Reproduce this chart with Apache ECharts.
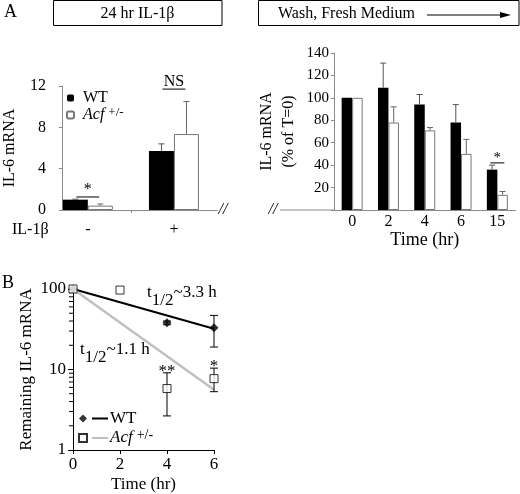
<!DOCTYPE html>
<html><head><meta charset="utf-8">
<script src="https://cdn.jsdelivr.net/npm/echarts@6/dist/echarts.min.js"></script>
<style>html,body{margin:0;padding:0;background:#fff}#c{width:520px;height:494px}</style>
</head><body><div id="c"></div>
<script>
// ---------- Panel A (left): 24 hr IL-1beta ----------
const groupsA = ['-', '+'];
const groupPosA = [0, 1];
const wtA = [1.0, 5.7];
const wtAErr = [0.05, 0.7];
const acfA = [0.42, 7.35];
const acfAErr = [0.16, 3.15];
const sigA = [{x: 0, y: 1.26, text: '*'}, {x: 1, y: 11.7, text: 'NS'}];

// ---------- Panel A (right): wash, fresh medium ----------
const timesR = ['0', '2', '4', '6', '15'];
const wtR = [100, 109, 94, 78, 36];
const wtRErr = [0, 22, 9, 16, 4];
const acfR = [100, 78, 71, 50, 13.5];
const acfRErr = [0, 14, 2.5, 13, 3];
const sigR = [{x: 4, y: 42, text: '*'}];

// ---------- Panel B: decay on log scale ----------
const wtBTime = [0, 4, 6];
const wtBVal = [100, 38, 33];
const wtBLow = [100, 36, 19];
const wtBHigh = [100, 40, 47];
const acfBTime = [0, 2, 4, 6];
const acfBVal = [100, 97, 5.8, 7.7];
const acfBLow = [100, 97, 2.65, 5.3];
const acfBHigh = [100, 97, 9.1, 10.4];
const fitTime = [0, 6];
const wtFit = [100, 32];
const acfFit = [100, 5.6];
const minorTicksB = [2,3,4,5,6,7,8,9,20,30,40,50,60,70,80,90];
const sigB = [{x: 4, y: 9.1, text: '**'}, {x: 6, y: 10.4, text: '*'}];
const halfLives = [{x: 3.15, y: 81, val: '3.3 h'}, {x: 0.3, y: 16, val: '1.1 h'}];

const FF = "'Liberation Serif', 'Times New Roman', Times, 'DejaVu Serif', serif";
const GRAY = '#8a8a8a';

function errUp(offsetPx, capW, color) {
  return function (params, api) {
    const x = api.value(0), v = api.value(1), e = api.value(2);
    if (!e) return;
    const p0 = api.coord([x, v]), p1 = api.coord([x, v + e]);
    const cx = p0[0] + offsetPx;
    return {type: 'group', children: [
      {type: 'line', shape: {x1: cx, y1: p0[1], x2: cx, y2: p1[1]}, style: {stroke: color, lineWidth: 1}},
      {type: 'line', shape: {x1: cx - capW / 2, y1: p1[1], x2: cx + capW / 2, y2: p1[1]}, style: {stroke: color, lineWidth: 1}}
    ]};
  };
}
function errRange(capW, color) {
  return function (params, api) {
    const x = api.value(0), lo = api.value(1), hi = api.value(2);
    if (lo === hi) return;
    const a = api.coord([x, lo]), b = api.coord([x, hi]);
    const cx = a[0];
    return {type: 'group', children: [
      {type: 'line', shape: {x1: cx, y1: a[1], x2: cx, y2: b[1]}, style: {stroke: color, lineWidth: 1}},
      {type: 'line', shape: {x1: cx - capW / 2, y1: a[1], x2: cx + capW / 2, y2: a[1]}, style: {stroke: color, lineWidth: 1}},
      {type: 'line', shape: {x1: cx - capW / 2, y1: b[1], x2: cx + capW / 2, y2: b[1]}, style: {stroke: color, lineWidth: 1}}
    ]};
  };
}
function sigRender(list, halfW, withLine, fs, dy) {
  return function (params, api) {
    const item = list[params.dataIndex];
    const p = api.coord([api.value(0), api.value(1)]);
    const ch = [];
    if (withLine) ch.push({type: 'line', shape: {x1: p[0] - halfW, y1: p[1], x2: p[0] + halfW, y2: p[1]}, style: {stroke: '#000', lineWidth: 1}});
    ch.push({type: 'text', x: p[0], y: p[1] + dy, style: {text: item.text, fill: '#000', fontSize: fs, fontFamily: FF, align: 'center', verticalAlign: 'bottom'}});
    return {type: 'group', children: ch};
  };
}

const chart = echarts.init(document.getElementById('c'), null, {renderer: 'canvas'});
const baseText = {fontFamily: FF, color: '#000'};
const gText = (s, size, extra) => Object.assign({text: s, fontSize: size, fontFamily: FF, fill: '#000'}, extra || {});

chart.setOption({
  animation: false,
  backgroundColor: '#fff',
  textStyle: {fontFamily: FF},
  grid: [
    {left: 62, top: 86, width: 155, height: 124},
    {left: 334, top: 53, width: 181.5, height: 157},
    {left: 73, top: 289, width: 141, height: 161}
  ],
  xAxis: [
    {gridIndex: 0, type: 'value', min: -0.3, max: 1.5,
      axisLine: {show: true, onZero: false, lineStyle: {color: GRAY}},
      axisTick: {show: true, customValues: [0.5], length: 3, lineStyle: {color: GRAY}},
      axisLabel: {show: true, customValues: groupPosA, margin: 12, fontSize: 16, ...baseText,
        formatter: v => groupsA[Math.round(v)]},
      splitLine: {show: false}},
    {gridIndex: 1, type: 'category', data: timesR,
      axisLine: {onZero: false, lineStyle: {color: GRAY}},
      axisTick: {length: 3, lineStyle: {color: GRAY}},
      axisLabel: {margin: 4, fontSize: 16, ...baseText},
      name: 'Time (hr)', nameLocation: 'middle', nameGap: 16,
      nameTextStyle: {fontSize: 18, ...baseText}},
    {gridIndex: 2, type: 'value', min: 0, max: 6, interval: 2,
      axisLine: {show: true, onZero: false, lineStyle: {color: '#000'}},
      axisTick: {show: true, length: 4, lineStyle: {color: '#000'}},
      axisLabel: {margin: 6, fontSize: 17, ...baseText},
      splitLine: {show: false},
      name: 'Time (hr)', nameLocation: 'middle', nameGap: 26,
      nameTextStyle: {fontSize: 17, ...baseText}}
  ],
  yAxis: [
    {gridIndex: 0, type: 'value', min: 0, max: 12, interval: 4,
      axisLine: {show: true, onZero: false, lineStyle: {color: GRAY}},
      axisTick: {show: true, length: 3, lineStyle: {color: GRAY}},
      axisLabel: {margin: 16, fontSize: 16, ...baseText},
      splitLine: {show: false},
      name: 'IL-6 mRNA', nameLocation: 'middle', nameGap: 44,
      nameTextStyle: {fontSize: 16, ...baseText}},
    {gridIndex: 1, type: 'value', min: 0, max: 140, interval: 20,
      axisLine: {show: true, onZero: false, lineStyle: {color: GRAY}},
      axisTick: {show: true, length: 3, lineStyle: {color: GRAY}},
      axisLabel: {margin: 5, fontSize: 15, ...baseText, formatter: v => v === 0 ? '' : String(v)},
      splitLine: {show: false},
      name: 'IL-6 mRNA\n(% of T=0)', nameLocation: 'middle', nameGap: 34,
      nameTextStyle: {fontSize: 16, lineHeight: 22, ...baseText}},
    {gridIndex: 2, type: 'log', logBase: 10, min: 1, max: 100,
      axisLine: {show: true, onZero: false, lineStyle: {color: '#000'}},
      axisTick: {show: true, length: 5, lineStyle: {color: '#000'}},
      axisLabel: {margin: 7, fontSize: 17, ...baseText},
      splitLine: {show: false},
      name: 'Remaining IL-6 mRNA', nameLocation: 'middle', nameGap: 38,
      nameTextStyle: {fontSize: 17, ...baseText}}
  ],
  legend: [
    {left: 61, top: 85, orient: 'vertical', itemWidth: 7, itemHeight: 7, itemGap: 0,
      data: ['WT', 'Acf'],
      formatter: n => n === 'WT' ? '{sp|}{n|WT}' : '{sp|}{i|Acf}{s|+/-}',
      textStyle: {fontFamily: FF, color: '#000', rich: {
        sp: {width: 4},
        n: {fontSize: 16, fontFamily: FF, lineHeight: 18},
        i: {fontSize: 16, fontFamily: FF, fontStyle: 'italic', lineHeight: 18},
        s: {fontSize: 13, fontFamily: FF, lineHeight: 10, verticalAlign: 'top', padding: [0, 0, 0, 4]}
      }}},
    {left: 73, top: 405, orient: 'vertical', itemWidth: 8, itemHeight: 8, itemGap: 1,
      data: ['WT-B', 'Acf-B'],
      formatter: n => n === 'WT-B' ? '{ln|}{sp|}{n|WT}' : '{lg|}{sp|}{i|Acf}{s|+/-}',
      textStyle: {fontFamily: FF, color: '#000', rich: {
        ln: {width: 16, height: 2, backgroundColor: '#000'},
        lg: {width: 16, height: 2, backgroundColor: '#c0c0c0'},
        sp: {width: 2},
        n: {fontSize: 17, fontFamily: FF, lineHeight: 20},
        i: {fontSize: 17, fontFamily: FF, fontStyle: 'italic', lineHeight: 20},
        s: {fontSize: 14, fontFamily: FF, lineHeight: 10, verticalAlign: 'top', padding: [0, 0, 0, 4]}
      }}}
  ],
  graphic: [
    {type: 'text', left: 4, top: 3, style: gText('A', 18)},
    {type: 'text', left: 2, top: 274, style: gText('B', 18)},
    {type: 'rect', shape: {x: 53.5, y: 0.5, width: 168.5, height: 25}, style: {fill: 'none', stroke: '#000', lineWidth: 1}},
    {type: 'text', x: 137.5, y: 13.5, style: gText('24 hr IL-1β', 16, {align: 'center', verticalAlign: 'middle'})},
    {type: 'rect', shape: {x: 258.5, y: 0.5, width: 260.5, height: 25}, style: {fill: 'none', stroke: '#000', lineWidth: 1}},
    {type: 'text', x: 278, y: 13.5, style: gText('Wash, Fresh Medium', 16, {align: 'left', verticalAlign: 'middle'})},
    {type: 'line', shape: {x1: 427, y1: 15, x2: 503, y2: 15}, style: {stroke: '#000', lineWidth: 1}},
    {type: 'polygon', shape: {points: [[500, 12], [511, 15], [500, 18]]}, style: {fill: '#000'}},
    {type: 'text', x: 12, y: 230, style: gText('IL-1β', 16, {align: 'left', verticalAlign: 'middle'})},
    {type: 'text', x: 223, y: 210, style: gText('//', 16, {fontStyle: 'italic', align: 'center', verticalAlign: 'middle'})},
    {type: 'line', shape: {x1: 280, y1: 210, x2: 334, y2: 210}, style: {stroke: GRAY, lineWidth: 1}},
    {type: 'rect', shape: {x: 266, y: 200, width: 14, height: 20}, style: {fill: '#fff'}},
    {type: 'text', x: 273, y: 210, style: gText('//', 16, {fontStyle: 'italic', align: 'center', verticalAlign: 'middle'})}
  ],
  series: [
    // Panel A left bars
    {name: 'WT', type: 'bar', xAxisIndex: 0, yAxisIndex: 0, barWidth: 25, barGap: '0%',
      data: groupPosA.map((x, i) => [x, wtA[i]]), itemStyle: {color: '#000'}},
    {name: 'Acf', type: 'bar', xAxisIndex: 0, yAxisIndex: 0, barWidth: 25, barGap: '0%',
      data: groupPosA.map((x, i) => [x, acfA[i]]), itemStyle: {color: '#fff', borderColor: '#777', borderWidth: 1}},
    {type: 'custom', xAxisIndex: 0, yAxisIndex: 0, z: 3, renderItem: errUp(-12.5, 6, '#555'),
      data: groupPosA.map((x, i) => [x, wtA[i], wtAErr[i]])},
    {type: 'custom', xAxisIndex: 0, yAxisIndex: 0, z: 3, renderItem: errUp(12.5, 6, '#666'),
      data: groupPosA.map((x, i) => [x, acfA[i], acfAErr[i]])},
    {type: 'custom', xAxisIndex: 0, yAxisIndex: 0, z: 3, renderItem: sigRender(sigA, 11.5, true, 16, 1),
      data: sigA.map(d => [d.x, d.y])},
    // Panel A right bars
    {name: 'WT', type: 'bar', xAxisIndex: 1, yAxisIndex: 1, barWidth: 10.5, barGap: '0%',
      data: wtR, itemStyle: {color: '#000'}},
    {name: 'Acf', type: 'bar', xAxisIndex: 1, yAxisIndex: 1, barWidth: 10.5, barGap: '0%',
      data: acfR, itemStyle: {color: '#fff', borderColor: '#777', borderWidth: 1}},
    {type: 'custom', xAxisIndex: 1, yAxisIndex: 1, z: 3, renderItem: errUp(-5.25, 6, '#555'),
      data: wtR.map((v, i) => [i, v, wtRErr[i]])},
    {type: 'custom', xAxisIndex: 1, yAxisIndex: 1, z: 3, renderItem: errUp(5.25, 6, '#666'),
      data: acfR.map((v, i) => [i, v, acfRErr[i]])},
    {type: 'custom', xAxisIndex: 1, yAxisIndex: 1, z: 3, renderItem: sigRender(sigR, 7, true, 15, 3),
      data: sigR.map(d => [d.x, d.y])},
    // Panel B
    {type: 'custom', xAxisIndex: 2, yAxisIndex: 2, z: 3,
      renderItem: function (params, api) {
        const p = api.coord([0, api.value(1)]);
        return {type: 'line', shape: {x1: p[0] - 4, y1: p[1], x2: p[0], y2: p[1]}, style: {stroke: '#000', lineWidth: 1}};
      },
      data: minorTicksB.map(v => [0, v])},
    {name: 'WT fit', type: 'line', xAxisIndex: 2, yAxisIndex: 2, showSymbol: false, symbol: 'none',
      data: fitTime.map((t, i) => [t, wtFit[i]]), lineStyle: {color: '#000', width: 2}, z: 2},
    {name: 'Acf fit', type: 'line', xAxisIndex: 2, yAxisIndex: 2, showSymbol: false, symbol: 'none',
      data: fitTime.map((t, i) => [t, acfFit[i]]), lineStyle: {color: '#c0c0c0', width: 2.5}, z: 2},
    {type: 'custom', xAxisIndex: 2, yAxisIndex: 2, z: 3, renderItem: errRange(8, '#000'),
      data: wtBTime.map((t, i) => [t, wtBLow[i], wtBHigh[i]])},
    {type: 'custom', xAxisIndex: 2, yAxisIndex: 2, z: 3, renderItem: errRange(8, '#000'),
      data: acfBTime.map((t, i) => [t, acfBLow[i], acfBHigh[i]])},
    {name: 'WT-B', type: 'scatter', xAxisIndex: 2, yAxisIndex: 2, symbol: 'diamond', symbolSize: 9, z: 4,
      data: wtBTime.map((t, i) => [t, wtBVal[i]]), itemStyle: {color: '#000'}},
    {name: 'Acf-B', type: 'scatter', xAxisIndex: 2, yAxisIndex: 2, symbol: 'rect', symbolSize: 8, z: 5,
      data: acfBTime.map((t, i) => [t, acfBVal[i]]), itemStyle: {color: '#fff', borderColor: '#000', borderWidth: 1}},
    {type: 'custom', xAxisIndex: 2, yAxisIndex: 2, z: 5, renderItem: sigRender(sigB, 0, false, 17, 7),
      data: sigB.map(d => [d.x, d.y])},
    {type: 'custom', xAxisIndex: 2, yAxisIndex: 2, z: 5,
      renderItem: function (params, api) {
        const item = halfLives[params.dataIndex];
        const p = api.coord([api.value(0), api.value(1)]);
        return {type: 'text', x: p[0], y: p[1], style: {
          text: '{h|}{t|t}{b|1/2}{t|~' + item.val + '}', align: 'left', verticalAlign: 'middle', fill: '#000',
          rich: {
            h: {width: 0, lineHeight: 25},
            t: {fontSize: 17, fontFamily: FF, lineHeight: 17, verticalAlign: 'top'},
            b: {fontSize: 17, fontFamily: FF, lineHeight: 17, verticalAlign: 'bottom'}
          }}};
      },
      data: halfLives.map(d => [d.x, d.y])}
  ]
});
</script></body></html>
